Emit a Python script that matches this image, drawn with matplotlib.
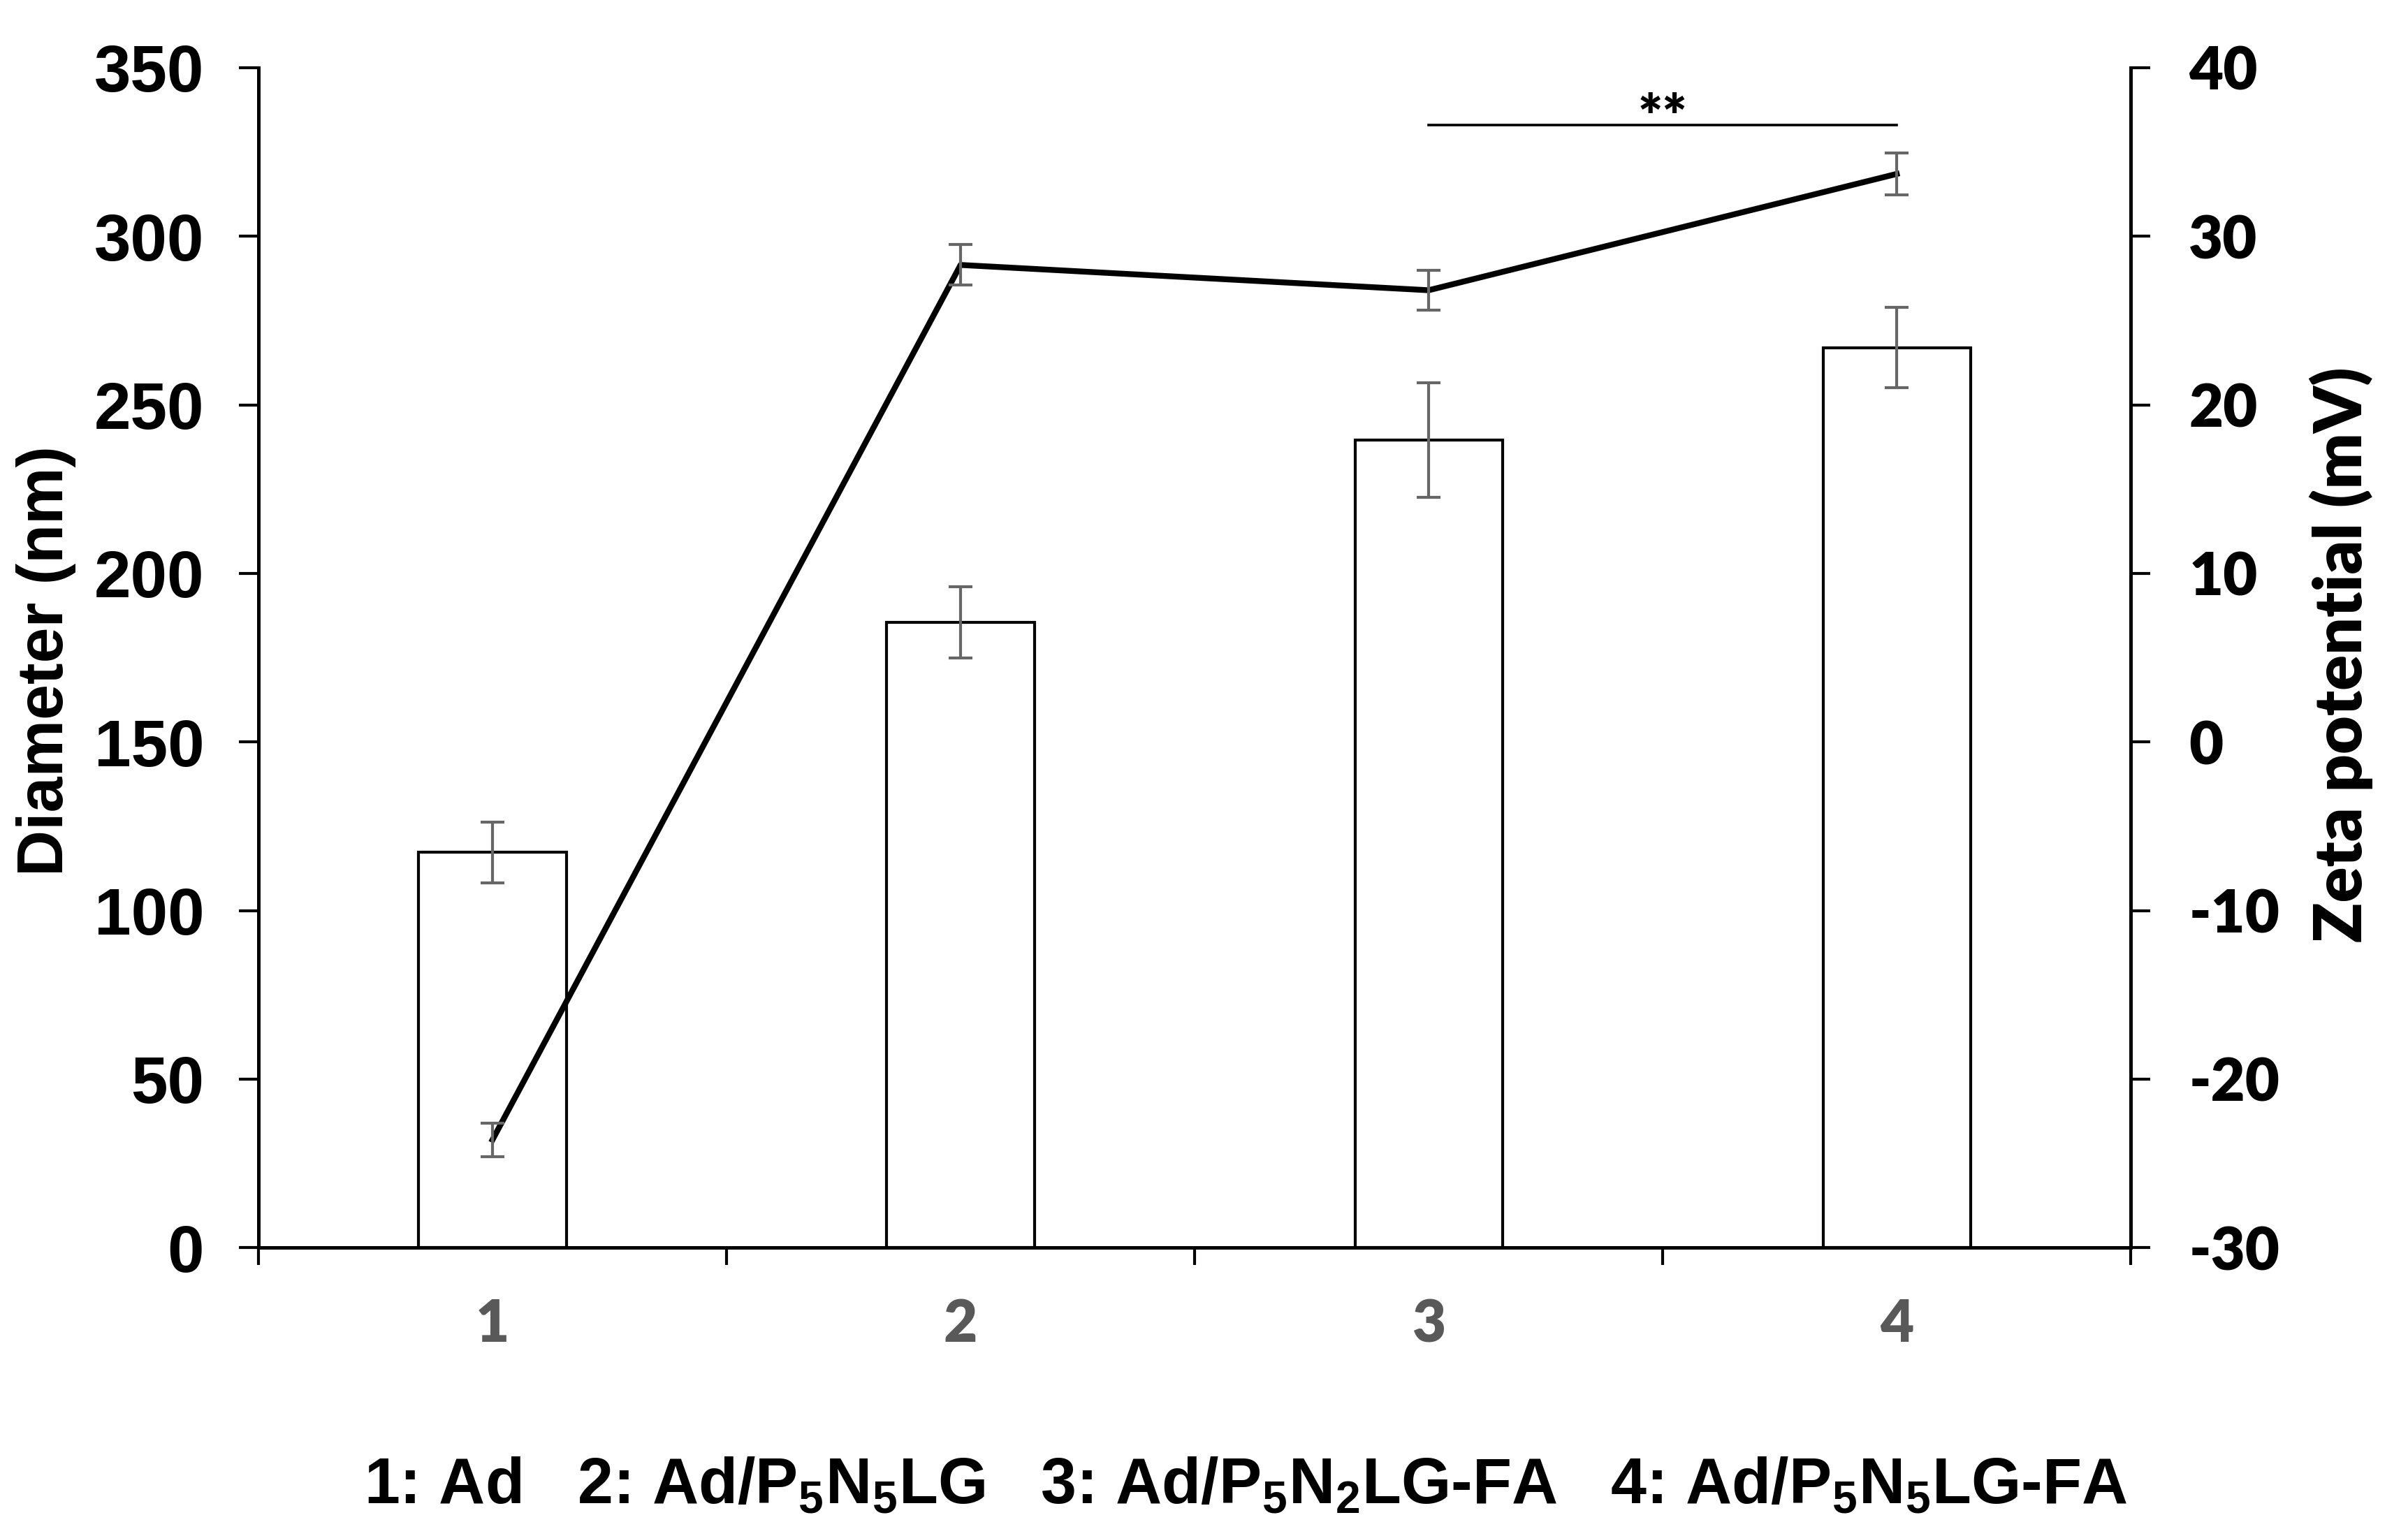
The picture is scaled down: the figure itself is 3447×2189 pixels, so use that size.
import matplotlib
matplotlib.use("Agg")
import matplotlib.pyplot as plt
import numpy as np

plt.rcParams['axes.unicode_minus'] = False
plt.rcParams['mathtext.default'] = 'regular'

categories = ["1", "2", "3", "4"]
diameter = [117.3, 185.5, 239.5, 267.0]
diameter_err = [9.0, 10.5, 17.0, 12.0]
zeta = [-23.6, 28.3, 26.8, 33.7]
zeta_err = [1.0, 1.2, 1.2, 1.25]
legend_text = r"1: Ad   2: Ad/P$_5$N$_5$LG   3: Ad/P$_5$N$_2$LG-FA   4: Ad/P$_5$N$_5$LG-FA"

ARIAL = ['Liberation Sans', 'DejaVu Sans']
CALIBRI = ['Lato', 'Liberation Sans', 'DejaVu Sans']
CW = 'heavy'
GRAY = '#595959'
EGRAY = '#666666'

fig = plt.figure(figsize=(17.24, 10.945), dpi=200)
ax1 = fig.add_axes([0.1073, 0.184, 0.7773, 0.7717])
ax2 = ax1.twinx()

x = np.arange(1, len(categories) + 1)
ax1.bar(x, diameter, width=0.315, color='white', edgecolor='black', linewidth=1.5, zorder=2)
ax1.errorbar(x, diameter, yerr=diameter_err, fmt='none', ecolor=EGRAY, elinewidth=1.5,
             capsize=6, capthick=1.5, zorder=3)

ax2.plot(x, zeta, color='black', linewidth=3.0, zorder=3)
ax2.errorbar(x, zeta, yerr=zeta_err, fmt='none', ecolor=EGRAY, elinewidth=1.5,
             capsize=6, capthick=1.5, zorder=4)

ax1.set_xlim(0.5, 4.5)
ax1.set_ylim(0, 350)
ax2.set_ylim(-30, 40)
ax1.set_yticks(np.arange(0, 351, 50))
ax2.set_yticks(np.arange(-30, 41, 10))

# x ticks at category boundaries, labels at centers
ax1.set_xticks(np.arange(0.5, 4.6, 1.0))
ax1.set_xticklabels([])
ax1.set_xticks(x, minor=True)
ax1.set_xticklabels(categories, minor=True)
ax1.tick_params(axis='x', which='minor', length=0, pad=26, labelsize=30, labelcolor=GRAY)
for lab in ax1.get_xticklabels(minor=True):
    lab.set_fontweight(CW)
    lab.set_family(CALIBRI)
ax1.tick_params(axis='x', which='major', direction='out', length=9, width=1.5)

ax1.tick_params(axis='y', direction='out', length=10, width=1.5, labelsize=34, pad=18)
for lab in ax1.get_yticklabels():
    lab.set_fontweight('bold')
    lab.set_family(ARIAL)
ax2.tick_params(axis='y', direction='out', length=10, width=1.5, labelsize=30.5, pad=20)
for lab in ax2.get_yticklabels():
    lab.set_fontweight(CW)
    lab.set_family(CALIBRI)

for ax in (ax1, ax2):
    ax.spines['top'].set_visible(False)
    for s in ('left', 'right', 'bottom'):
        ax.spines[s].set_linewidth(1.8)

fig.text(0.0191, 0.568, 'Diameter (nm)', rotation=90, ha='center', va='center',
         fontsize=33, fontweight='bold', family=ARIAL)
fig.text(0.972, 0.572, 'Zeta potential (mV)', rotation=90, ha='center', va='center',
         fontsize=34, fontweight=CW, family=CALIBRI)

# significance bracket
ax1.plot([3, 4], [333.0, 333.0], color='black', linewidth=1.3, zorder=5)
ax1.text(3.5, 329.5, '**', ha='center', va='baseline', fontsize=30, fontweight=CW,
         family=CALIBRI)

fig.text(0.517, 0.0164, legend_text, ha='center', va='baseline', fontsize=33,
         fontweight='bold', family=ARIAL)

fig.savefig('out.png', dpi=200)
